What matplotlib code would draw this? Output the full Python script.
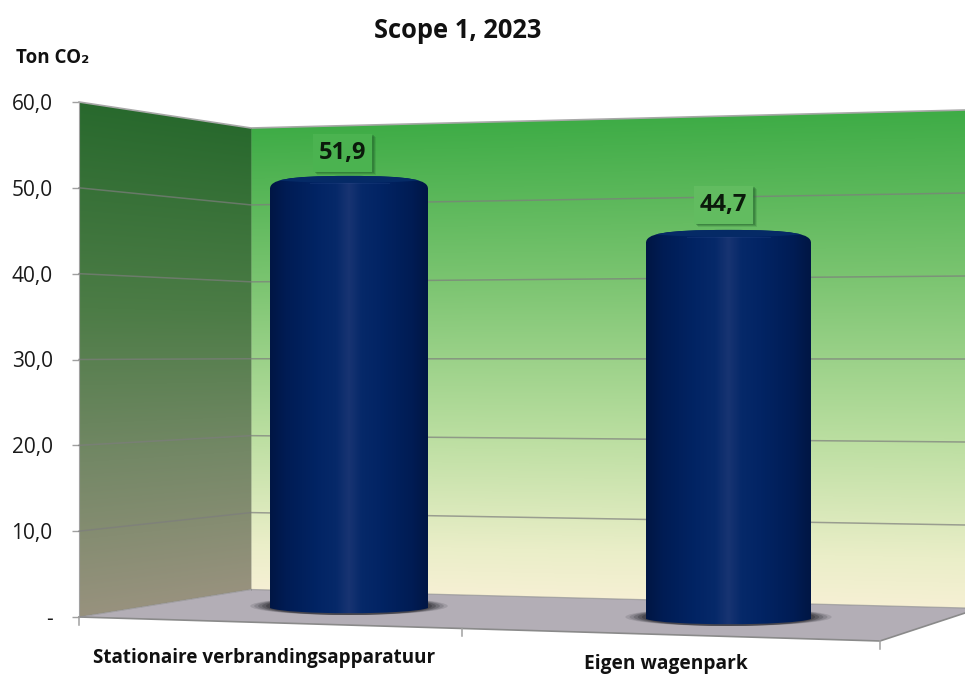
import numpy as np
import matplotlib
matplotlib.use('Agg')
import matplotlib.pyplot as plt
from matplotlib.patches import Polygon, Rectangle, Ellipse, PathPatch
from matplotlib.path import Path

plt.rcParams['font.family'] = ['Open Sans', 'DejaVu Sans']

# data
categories = ['Stationaire verbrandingsapparatuur', 'Eigen wagenpark']
values = [51.9, 44.7]
value_labels = ['51,9', '44,7']
tick_values = [0, 10, 20, 30, 40, 50, 60]
tick_labels = ['-', '10,0', '20,0', '30,0', '40,0', '50,0', '60,0']

# chart box in pixels (the 3d walls and the floor)
W, H = 965, 675
XL, XB, XR, XF = 79, 251, 965, 880
VMAX = 60.0


def y_left(v):
    return 617 - (617 - 102) * np.asarray(v) / VMAX


def y_inner(v):
    return 589.5 - (589.5 - 128) * np.asarray(v) / VMAX


def y_right(v):
    return 608 - (608 - 110) * np.asarray(v) / VMAX


def ramp(t, stops):
    pos = [s[0] for s in stops]
    out = [np.interp(t, pos, [s[1][c] / 255 for s in stops]) for c in range(3)]
    return np.stack(out, axis=-1)


back_stops = [(0, (62, 172, 70)), (0.33, (122, 196, 112)), (0.66, (186, 222, 160)),
              (0.9, (234, 238, 200)), (1, (246, 240, 212))]
side_stops = [(0, (40, 105, 45)), (0.4, (76, 124, 70)), (0.7, (116, 136, 102)),
              (1, (152, 146, 126))]


def back_colour(x, y):
    top = y_inner(VMAX) + (y_right(VMAX) - y_inner(VMAX)) * (x - XB) / (XR - XB)
    bot = y_inner(0) + (y_right(0) - y_inner(0)) * (x - XB) / (XR - XB)
    return ramp((y - top) / (bot - top), back_stops)


def side_colour(x, y):
    top = y_left(VMAX) + (y_inner(VMAX) - y_left(VMAX)) * (x - XL) / (XB - XL)
    bot = y_left(0) + (y_inner(0) - y_left(0)) * (x - XL) / (XB - XL)
    return ramp((y - top) / (bot - top), side_stops)


fig = plt.figure(figsize=(W / 100, H / 100), dpi=100)
ax = fig.add_axes([0, 0, 1, 1])
ax.patch.set_visible(False)

xx, yy = np.meshgrid(np.arange(W) + 0.5, np.arange(H) + 0.5)
side_poly = Polygon([(XL, y_left(VMAX)), (XB, y_inner(VMAX)), (XB, y_inner(0)), (XL, y_left(0))],
                    closed=True, transform=ax.transData, fc='none', ec='none')
back_poly = Polygon([(XB, y_inner(VMAX)), (XR, y_right(VMAX)), (XR, y_right(0)), (XB, y_inner(0))],
                    closed=True, transform=ax.transData, fc='none', ec='none')
im = ax.imshow(side_colour(xx, yy).clip(0, 1), extent=(0, W, H, 0), aspect='auto', zorder=1)
im.set_clip_path(side_poly)
im = ax.imshow(back_colour(xx, yy).clip(0, 1), extent=(0, W, H, 0), aspect='auto', zorder=1)
im.set_clip_path(back_poly)

# floor
front_right_y = 641
ax.add_patch(Polygon([(XL, y_left(0)), (XB, y_inner(0)), (XR, y_right(0)), (XR, 613), (XF, front_right_y)],
                     closed=True, fc='#b3aeb6', ec='none', zorder=2))
edge = '#8a8a8a'
ax.plot([XL, XF, XR], [y_left(0), front_right_y, 613], color=edge, lw=1.2, zorder=3)
ax.plot([XL, XB, XR], [y_left(0), y_inner(0), y_right(0)], color=edge, lw=0.9, alpha=0.6, zorder=3)
ax.plot([XL, XB, XR], [y_left(VMAX), y_inner(VMAX), y_right(VMAX)], color='#a8a8a8', lw=1.2, zorder=3)
ax.plot([XB, XB], [y_inner(0), y_inner(VMAX)], color='#555555', lw=0.6, alpha=0.3, zorder=3)

# gridlines on both walls
for v in tick_values[1:-1]:
    ax.plot([XL, XB, XR], [y_left(v), y_inner(v), y_right(v)], color='#7d7d7d', lw=1.1, alpha=0.7, zorder=3)

# front edge ticks
for tx in [XL, 462, XF]:
    ty = y_left(0) + (front_right_y - y_left(0)) * (tx - XL) / (XF - XL)
    ax.plot([tx, tx], [ty, ty + 8], color='#a0a0a0', lw=1.1, zorder=3)

# cylinders
bar_x = [349, 728.5]
bar_w = [158, 165]
bar_base = [602, 613]
bar_scale = [8.21, 8.57]
shade_u = [0, 0.1, 0.3, 0.42, 0.5, 0.58, 0.7, 0.9, 1]
shade_r = [0, 0, 2, 6, 24, 6, 2, 0, 0]
shade_g = [22, 28, 36, 41, 52, 41, 36, 28, 22]
shade_b = [68, 84, 100, 105, 114, 105, 100, 84, 68]

for i in range(len(values)):
    cx, w, base = bar_x[i], bar_w[i], bar_base[i]
    top = base - values[i] * bar_scale[i]
    x0, x1 = cx - w / 2, cx + w / 2
    bottom = base + 12

    # soft shadow on the floor
    for k, a in zip([1.25, 1.2, 1.15, 1.1, 1.05], [0.14, 0.18, 0.24, 0.3, 0.4]):
        ax.add_patch(Ellipse((cx, base + 4), w * k, 18, fc='#2a2a30', ec='none', alpha=a, zorder=4))

    verts = [(x0, top + 13), (x0, top + 4), (x0 + w * 0.1, top), (cx, top),
             (x1 - w * 0.1, top), (x1, top + 4), (x1, top + 13),
             (x1, bottom - 6),
             (x1 - w * 0.12, bottom + 1), (x0 + w * 0.12, bottom + 1), (x0, bottom - 6),
             (x0, top + 13)]
    codes = [Path.MOVETO] + [Path.CURVE4] * 6 + [Path.LINETO] + [Path.CURVE4] * 3 + [Path.LINETO]
    shape = PathPatch(Path(verts, codes), fc='none', ec='none', transform=ax.transData)
    ax.add_patch(shape)
    shape.set_zorder(0)

    u = np.linspace(0, 1, 200)
    grad = np.stack([np.interp(u, shade_u, shade_r), np.interp(u, shade_u, shade_g),
                     np.interp(u, shade_u, shade_b)], axis=-1)[None, :, :] / 255
    body = ax.imshow(grad, extent=(x0, x1, bottom + 1, top), aspect='auto', zorder=5)
    body.set_clip_path(shape)

    # top cap and its soft highlight
    cap = Ellipse((cx, top + 1), w * 1.1, 12, fc='#052a66', ec='none', zorder=6)
    ax.add_patch(cap)
    cap.set_clip_path(shape)
    ax.plot([cx - w * 0.25, cx + w * 0.25], [top + 7, top + 7], color='#3a5a9a', lw=0.8, alpha=0.2, zorder=6)

    # value label in a box with a drop shadow
    bx, by = cx - 36 + (0 if i == 0 else 1), top - 42 + (0 if i == 0 else -2)
    bw, bh = 59, 38
    for off, a in [(4, 0.15), (3, 0.25), (2, 0.3)]:
        ax.add_patch(Rectangle((bx + off, by + off * 0.7), bw, bh, fc='#1e5c28', ec='none', alpha=a, zorder=7))
    ax.add_patch(Rectangle((bx, by), bw, bh, fc=np.clip(back_colour(bx + bw / 2, by + bh / 2) + 0.01, 0, 1),
                           ec='none', zorder=8))
    ax.text(bx + 30, by + bh / 2, value_labels[i], ha='center', va='center',
            fontsize=17, fontweight='bold', color='#0b1a0b', zorder=9)

# y axis on the front edge of the left wall
ax.set_xlim(0, W)
ax.set_ylim(H, 0)
ax.set_xticks([])
ax.set_yticks(y_left(tick_values))
ax.set_yticklabels(tick_labels)
ax.tick_params(axis='y', length=5, width=1, color='#a0a0a0', pad=14, labelsize=15, labelcolor='#1a1a1a')
for name in ['top', 'right', 'bottom']:
    ax.spines[name].set_visible(False)
ax.spines['left'].set_position(('data', XL))
ax.spines['left'].set_bounds(y_left(VMAX), y_left(0))
ax.spines['left'].set_color('#a0a0a0')

ax.text(458, 30, 'Scope 1, 2023', ha='center', va='center', fontsize=18.4, fontweight='bold', color='#111111')
ax.text(16, 58, 'Ton CO\u2082', ha='left', va='center', fontsize=13.5, fontweight='bold', color='#111111')
ax.text(264, 658, categories[0], ha='center', va='center', fontsize=13.6, fontweight='bold', color='#111111')
ax.text(666, 664, categories[1], ha='center', va='center', fontsize=13.8, fontweight='bold', color='#111111')

fig.savefig('out.png', dpi=100)
